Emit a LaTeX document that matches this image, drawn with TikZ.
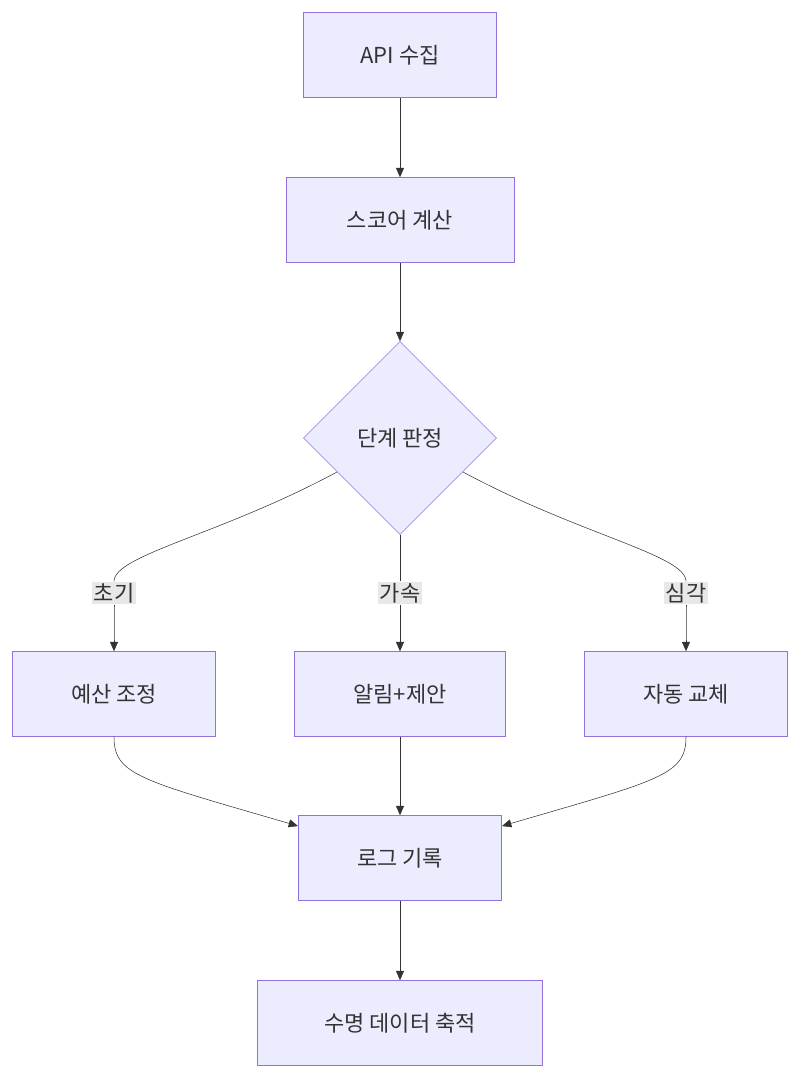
\documentclass[tikz,border=0pt]{standalone}
\usepackage{fontspec}
\setmainfont{Noto Sans CJK KR}
\usetikzlibrary{shapes.geometric,arrows.meta}
\definecolor{boxfill}{HTML}{ECECFF}
\definecolor{boxline}{HTML}{9370DB}
\definecolor{edgeline}{HTML}{333333}
\definecolor{labfill}{HTML}{E8E8E8}
\begin{document}
\begin{tikzpicture}[x=0.75pt,y=-0.75pt,
  box/.style={draw=boxline,fill=boxfill,minimum height=63.75pt,font=\fontsize{16.5}{18}\selectfont,text=edgeline},
  dec/.style={diamond,draw=boxline,fill=boxfill,minimum size=144.75pt,inner sep=0pt,font=\fontsize{16.5}{18}\selectfont,text=edgeline},
  elab/.style={fill=labfill,inner sep=1pt,font=\fontsize{16.5}{18}\selectfont,text=edgeline},
  arr/.style={draw=edgeline,-{Triangle[length=7pt,width=6pt]}}]
  \useasboundingbox (0,0) rectangle (800,1078);
  \node [box,minimum width=144.75pt] (api) at (400,55) {API 수집};
  \node [box,minimum width=171pt] (score) at (400,220) {스코어 계산};
  \node [dec] (stage) at (400,438) {단계 판정};
  \node [box,minimum width=152.25pt] (budget) at (114,694) {예산 조정};
  \node [box,minimum width=158.25pt] (alert) at (400,694) {알림+제안};
  \node [box,minimum width=152.25pt] (swap) at (686,694) {자동 교체};
  \node [box,minimum width=152.25pt] (log) at (400,858) {로그 기록};
  \node [box,minimum width=213.75pt] (life) at (400,1023) {수명 데이터 축적};
  % edge labels
  \node [elab] (early) at (114,593) {초기};
  \node [elab] (accel) at (400,593) {가속};
  \node [elab] (severe) at (686,593) {심각};
  \coordinate (sw) at (337,472);
  \coordinate (se) at (463,472);
  \coordinate (logl) at (298,826);
  \coordinate (logr) at (502,826);

  \draw [arr] (api) -- (score);
  \draw [arr] (score) -- (stage);
  \draw [edgeline] (sw) .. controls (220,535) and (114,555) .. (early.north);
  \draw [arr] (early.south) .. controls (114,620) and (114,625) .. (budget.north);
  \draw [edgeline] (stage.south) -- (accel.north);
  \draw [arr] (accel.south) -- (alert.north);
  \draw [edgeline] (se) .. controls (580,535) and (686,555) .. (severe.north);
  \draw [arr] (severe.south) .. controls (686,620) and (686,625) .. (swap.north);
  \draw [arr] (budget.south) .. controls (114,775) and (140,780) .. (logl);
  \draw [arr] (alert) -- (log);
  \draw [arr] (swap.south) .. controls (686,775) and (660,780) .. (logr);
  \draw [arr] (log) -- (life);
\end{tikzpicture}
\end{document}
